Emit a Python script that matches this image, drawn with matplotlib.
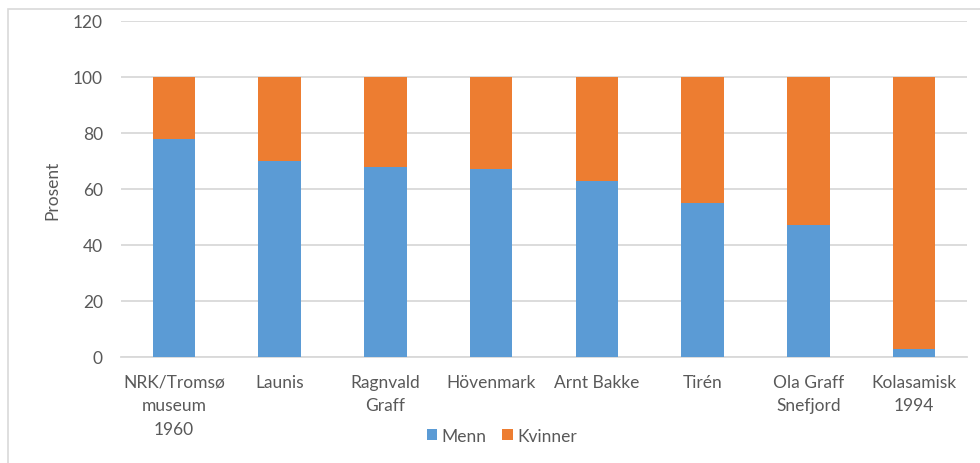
import matplotlib
matplotlib.use("Agg")
import matplotlib.pyplot as plt
import numpy as np
from matplotlib.patches import Rectangle

# data
categories = ["NRK/Tromsø\nmuseum\n1960", "Launis", "Ragnvald\nGraff", "Hövenmark",
              "Arnt Bakke", "Tirén", "Ola Graff\nSnefjord", "Kolasamisk\n1994"]
menn = [78, 70, 68, 67, 63, 55, 47, 3]
kvinner = [22, 30, 32, 33, 37, 45, 53, 97]
yticks = [0, 20, 40, 60, 80, 100, 120]

BLUE = "#5B9BD5"
ORANGE = "#ED7D31"
GRID = "#D9D9D9"
TEXT = "#595959"
FS = 12.5

plt.rcParams["font.family"] = ["Lato", "DejaVu Sans"]

fig = plt.figure(figsize=(9.8, 4.64), dpi=100)
ax = fig.add_axes([121 / 980, 1 - 358 / 464, (967 - 121) / 980, (358 - 22) / 464])

x = np.arange(len(categories))
ax.bar(x, menn, width=0.4, color=BLUE, label="Menn", zorder=3)
ax.bar(x, kvinner, width=0.4, bottom=menn, color=ORANGE, label="Kvinner", zorder=3)

ax.set_xlim(-0.5, len(categories) - 0.5)
ax.set_ylim(0, 120)
ax.set_yticks(yticks)
ax.yaxis.grid(True, color=GRID, linewidth=1.3, zorder=0)
ax.set_axisbelow(True)
for s in ["top", "right", "left"]:
    ax.spines[s].set_visible(False)
ax.spines["bottom"].set_color(GRID)
ax.spines["bottom"].set_linewidth(1.3)
ax.tick_params(axis="both", length=0, colors=TEXT, labelsize=FS)
ax.tick_params(axis="y", pad=13)
ax.tick_params(axis="x", pad=12)
ax.set_xticks(x)
ax.set_xticklabels(categories, linespacing=1.6)
ax.set_ylabel("Prosent", color=TEXT, fontsize=FS, labelpad=9)

ax.legend(loc="center", bbox_to_anchor=(502 / 980, 1 - 437 / 464), bbox_transform=fig.transFigure,
          ncol=2, frameon=False, fontsize=FS, handlelength=0.6, handleheight=0.6,
          handletextpad=0.25, columnspacing=0.9, labelcolor=TEXT)

# light frame around the chart area
fig.patches.append(Rectangle((8 / 980, -0.01), 1.0, 1 - 10 / 464 + 0.01, transform=fig.transFigure,
                             fill=False, edgecolor="#D9D9D9", linewidth=1.2))

fig.savefig("out.png", dpi=100, facecolor="white")
